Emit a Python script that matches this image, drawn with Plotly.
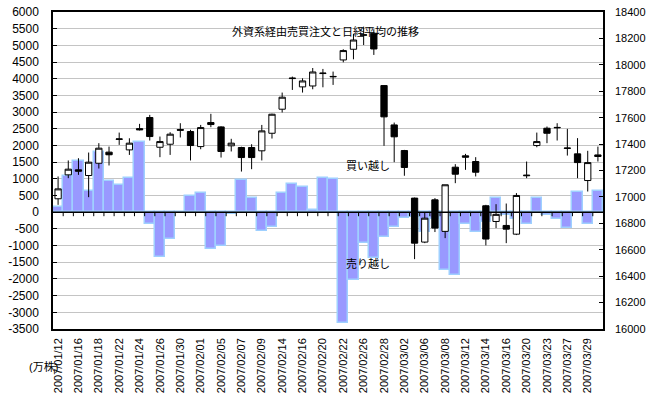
import plotly.graph_objects as go

# Trading days shown on the category axis
dates = [
    "2007/01/12", "2007/01/15", "2007/01/16", "2007/01/17", "2007/01/18", "2007/01/19",
    "2007/01/22", "2007/01/23", "2007/01/24", "2007/01/25", "2007/01/26", "2007/01/29",
    "2007/01/30", "2007/01/31", "2007/02/01", "2007/02/02", "2007/02/05", "2007/02/06",
    "2007/02/07", "2007/02/08", "2007/02/09", "2007/02/13", "2007/02/14", "2007/02/15",
    "2007/02/16", "2007/02/19", "2007/02/20", "2007/02/21", "2007/02/22", "2007/02/23",
    "2007/02/26", "2007/02/27", "2007/02/28", "2007/03/01", "2007/03/02", "2007/03/05",
    "2007/03/06", "2007/03/07", "2007/03/08", "2007/03/09", "2007/03/12", "2007/03/13",
    "2007/03/14", "2007/03/15", "2007/03/16", "2007/03/19", "2007/03/20", "2007/03/22",
    "2007/03/23", "2007/03/26", "2007/03/27", "2007/03/28", "2007/03/29", "2007/03/30",
]

# Net buy (+) / sell (-) orders via foreign brokers, in 10,000 shares
net_orders = [
    150, 1080, 1530, 650, 1800, 930, 830, 1030, 2110, -350, -1350, -800,
    -30, 500, 570, -1090, -1000, -50, 970, 420, -550, -430, 590, 840,
    770, 80, 1020, 1000, -3310, -2030, -920, -1380, -730, -455, -180, -150,
    -600, -200, -1740, -1890, -350, -605, -300, 420, -80, -200, -355, 415,
    -90, -210, -480, 600, -340, 630,
]

# Nikkei 225 daily OHLC
nk_open = [
    16986, 17167, 17205, 17162, 17255, 17339, 17435, 17356, 17517, 17601, 17376, 17399,
    17510, 17495, 17381, 17563, 17530, 17387, 17374, 17374, 17349, 17482, 17664, 17896,
    17833, 17840, 17934, 17909, 18037, 18118, 18224, 18239, 17843, 17545, 17351, 16991,
    16658, 16978, 16739, 17225, 17311, 17268, 16933, 16814, 16784, 16718, 17160, 17389,
    17520, 17523, 17367, 17326, 17124, 17318,
]
nk_high = [
    17155, 17276, 17293, 17336, 17407, 17381, 17487, 17444, 17553, 17621, 17457, 17490,
    17558, 17508, 17545, 17629, 17535, 17440, 17380, 17399, 17545, 17630, 17790, 17911,
    17898, 17976, 17969, 17949, 18118, 18234, 18289, 18269, 17845, 17563, 17356, 16995,
    16885, 16991, 17092, 17248, 17326, 17301, 16940, 16945, 16950, 17029, 17268, 17487,
    17533, 17558, 17515, 17445, 17349, 17381,
]
nk_low = [
    16940, 17142, 17167, 16998, 17215, 17238, 17394, 17318, 17503, 17427, 17301, 17318,
    17450, 17276, 17361, 17528, 17298, 17344, 17192, 17210, 17276, 17442, 17639, 17810,
    17790, 17815, 17830, 17848, 18019, 18042, 18150, 18075, 17387, 17263, 17160, 16529,
    16650, 16734, 16688, 17104, 17205, 17155, 16633, 16764, 16650, 16711, 17142, 17376,
    17407, 17427, 17313, 17142, 17041, 17268,
]
nk_close = [
    17061, 17210, 17195, 17263, 17369, 17319, 17439, 17407, 17508, 17457, 17419, 17475,
    17505, 17389, 17525, 17548, 17344, 17407, 17298, 17298, 17500, 17626, 17755, 17899,
    17878, 17946, 17937, 17912, 18108, 18188, 18227, 18120, 17606, 17455, 17223, 16650,
    16839, 16764, 17092, 17172, 17301, 17187, 16681, 16868, 16756, 17011, 17164, 17419,
    17482, 17526, 17370, 17260, 17260, 17306,
]

left_ticks = list(range(-3500, 6001, 500))
right_ticks = list(range(16000, 18401, 200))

# plot area in pixels
W, H = 650, 393
L, R, T, B = 53, 47, 12, 64
plot_w = W - L - R
plot_h = H - T - B


def px(xp):
    return (xp - L) / plot_w


def py(yp):
    return (H - B - yp) / plot_h


num_font = "Liberation Sans, Arial, sans-serif"
jp_font = "Noto Sans CJK JP, sans-serif"
mixed_font = "Liberation Sans, Noto Sans CJK JP, sans-serif"
grid_color = "#c4c4c4"

fig = go.Figure()

fig.add_trace(go.Bar(
    x=dates, y=net_orders,
    marker=dict(color="#9999ff", line=dict(color="#9fd0ff", width=1.5)),
    xaxis="x", yaxis="y", showlegend=False,
))

fig.add_trace(go.Candlestick(
    x=dates, open=nk_open, high=nk_high, low=nk_low, close=nk_close,
    increasing=dict(fillcolor="#ffffff", line=dict(color="#000000", width=1)),
    decreasing=dict(fillcolor="#000000", line=dict(color="#000000", width=1)),
    whiskerwidth=0,
    xaxis="x", yaxis="y2", showlegend=False,
))

# zero line of the left axis, with small tick marks at every day boundary
zero_marks = [
    dict(type="line", xref="paper", yref="y", x0=0, x1=1, y0=0, y1=0,
         line=dict(color="#000000", width=1.5), layer="above")
]
zero_marks += [
    dict(type="line", xref="x", yref="y", x0=k - 0.5, x1=k - 0.5,
         y0=0, y1=-120, line=dict(color="#000000", width=1), layer="above")
    for k in range(1, len(dates))
]

fig.update_layout(
    width=W, height=H,
    margin=dict(l=L, r=R, t=T, b=B, pad=0),
    paper_bgcolor="#ffffff", plot_bgcolor="#ffffff",
    bargap=0, boxgap=0.12, boxmode="overlay", barmode="overlay",
    showlegend=False,
    shapes=zero_marks,
    xaxis=dict(
        type="category", categoryorder="array", categoryarray=dates,
        range=[-0.5, len(dates) - 0.5],
        tickmode="array", tickvals=dates[::2], ticktext=dates[::2],
        tickangle=-90, tickfont=dict(family=num_font, size=11, color="#000000"),
        ticklabelstandoff=3,
        ticks="", showgrid=False, zeroline=False,
        showline=True, linecolor="#000000", linewidth=1.5, mirror=True,
        automargin=False, rangeslider=dict(visible=False),
    ),
    yaxis=dict(
        range=[left_ticks[0], left_ticks[-1]],
        tickmode="array", tickvals=left_ticks, ticktext=[str(v) for v in left_ticks],
        tickfont=dict(family=num_font, size=12, color="#000000"),
        ticks="inside", ticklen=4, tickcolor="#000000",
        ticklabelstandoff=10,
        showgrid=True, gridcolor=grid_color, gridwidth=1,
        zeroline=False,
        showline=True, linecolor="#000000", linewidth=1.5,
        automargin=False,
    ),
    yaxis2=dict(
        range=[right_ticks[0], right_ticks[-1]],
        overlaying="y", side="right", anchor="x",
        tickmode="array", tickvals=right_ticks, ticktext=[str(v) for v in right_ticks],
        tickfont=dict(family=num_font, size=11, color="#000000"),
        ticks="inside", ticklen=4, tickcolor="#000000",
        ticklabelstandoff=8,
        showgrid=False, zeroline=False,
        showline=True, linecolor="#000000", linewidth=1.5,
        automargin=False,
    ),
    annotations=[
        dict(text="外資系経由売買注文と日経平均の推移", x=px(325.5), y=py(21),
             xref="paper", yref="paper", showarrow=False,
             font=dict(family=jp_font, size=11, color="#000000")),
        dict(text="買い越し", x=px(368), y=py(165),
             xref="paper", yref="paper", showarrow=False,
             font=dict(family=jp_font, size=11, color="#000000")),
        dict(text="売り越し", x=px(368), y=py(273),
             xref="paper", yref="paper", showarrow=False,
             font=dict(family=jp_font, size=11, color="#000000")),
        dict(text="(万株)", x=px(27), y=py(375),
             xref="paper", yref="paper", showarrow=False,
             font=dict(family=mixed_font, size=11, color="#000000")),
    ],
)

fig.write_html("out.html")
